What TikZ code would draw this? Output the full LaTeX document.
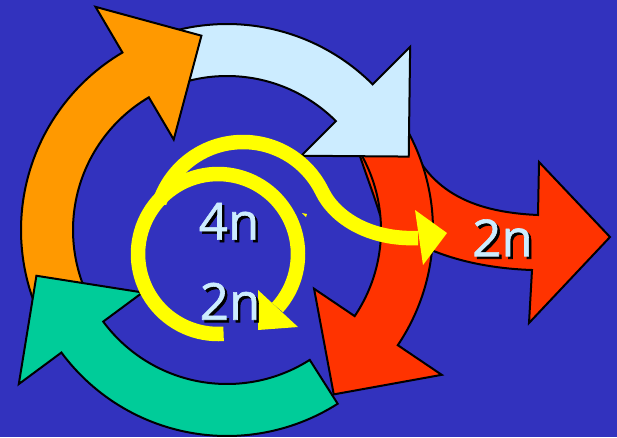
\documentclass[tikz,border=0pt]{standalone}
\usepackage{fontspec}
\setmainfont{Open Sans}
\newfontfamily\countfont{Open Sans}[FakeBold=1.2]
\usetikzlibrary{positioning}
\definecolor{bgblue}{HTML}{3232BE}
\definecolor{cycorange}{HTML}{FF9900}
\definecolor{cycsky}{HTML}{CCECFF}
\definecolor{cycred}{HTML}{FF3300}
\definecolor{cycgreen}{HTML}{00CC99}
\definecolor{spiralyellow}{HTML}{FFFF00}
\tikzset{
  bigarrow/.style={draw=black, line width=2pt, miter limit=20, fill=#1},
  spiral/.style={draw=spiralyellow, line width=14.5pt},
  countlabel/.style={text=cycsky, font=\countfont\fontsize{51}{51}\selectfont, inner sep=0pt}
}
% curved arrow of the big cycle: colour, tail angle, head angle
\newcommand\cyclearrow[3]{%
  \filldraw[bigarrow=#1]
    plot[domain=#2:#3, samples=60] (\x:206) -- (#3:259) -- (#3+23:196) -- (#3:105)
    -- plot[domain=#3:#2, samples=60] (\x:154) -- cycle;}
% text with a dark shadow
\newcommand\shadowed[1]{\makebox[0pt][l]{\hspace{2.5pt}\raisebox{-2.5pt}{\color{black}#1}}#1}

\begin{document}
\begin{tikzpicture}[x=1pt,y=-1pt]
\useasboundingbox (0,0) rectangle (617,437);
\fill[bgblue] (0,0) rectangle (617,437);

% branch going out to the right
\filldraw[bigarrow=cycred] (405,130) .. controls (425,190) and (470,212) .. (538,215)
  -- (539,162) -- (610,237) -- (529,323) -- (532,270)
  .. controls (470,268) and (410,250) .. (380,215)
  .. controls (374,195) and (365,172) .. (358,150) -- cycle;

\begin{scope}[shift={(227,230)}]
\cyclearrow{cycred}{325}{394}
\cyclearrow{cycsky}{250}{315}
\cyclearrow{cycorange}{150}{239.5}
\cyclearrow{cycgreen}{57.5}{143.5}
\end{scope}

% yellow spirals
\begin{scope}[shift={(218,254)}]
\draw[spiral] plot[domain=86:402, samples=90] (\x:80);
\end{scope}
\fill[spiralyellow] (258,290) -- (298,327) -- (258,330) -- cycle;
\draw[spiral] plot[domain=198:334, samples=60] ({243+88*cos(\x)},{230+88*sin(\x)})
  .. controls (335,218) and (370,240) .. (418,238);
\fill[spiralyellow] (415,210) -- (447,233) -- (423,265) -- cycle;
\fill[spiralyellow] (302,213) -- (307,214) -- (306,217) -- cycle;

% counts
\node[countlabel] (four) at (229,222.5) {\shadowed{4n}};
\node[countlabel] (inner) at (230,302.5) {\shadowed{2n}};
\node[countlabel] (outer) at (502.5,239) {\shadowed{2n}};
\end{tikzpicture}
\end{document}
